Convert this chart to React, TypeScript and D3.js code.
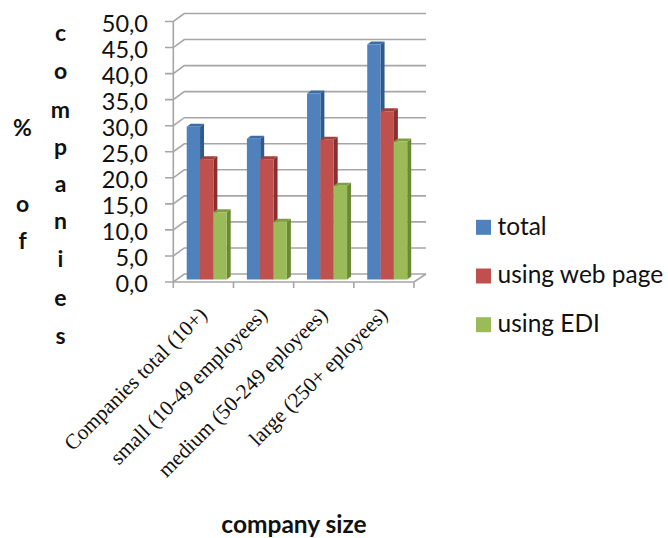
import React from "react";
import * as d3 from "d3";

const categories = ["Companies total (10+)", "small (10-49 employees)", "medium (50-249 eployees)", "large (250+ eployees)"];
const seriesNames = ["total", "using web page", "using EDI"];
const totalValues = [29.3, 27.0, 35.7, 45.1];
const webValues = [23.1, 23.1, 26.8, 32.3];
const ediValues = [12.9, 11.1, 18.0, 26.5];
const ticks = [0, 5, 10, 15, 20, 25, 30, 35, 40, 45, 50];
const yTitleA = [["%", 130], ["o", 206], ["f", 243]] as [string, number][];
const yTitleB = [["c", 35], ["o", 73], ["m", 112], ["p", 149], ["a", 186], ["n", 223], ["i", 261], ["e", 300], ["s", 338]] as [string, number][];

const front = "#4F81BD|#C0504D|#9BBB59".split("|");
const side = "#2F5A8E|#8A2F2D|#6B8A35".split("|");
const topC = "#3A6CA8|#A33F3C|#7F9E42".split("|");
const grid = "#A6A6A6";
const sans = "Lato, 'Open Sans', sans-serif";
const series = [totalValues, webValues, ediValues];

const x = d3.scaleBand<string>().domain(categories).range([173.3, 414]);
const y = d3.scaleLinear().domain([0, 50]).range([282, 21.5]);
const dx = 11, dy = 8;
const barY = d3.scaleLinear().domain([0, 50]).range([279.5, 19]);
const inner = d3.scaleBand<string>().domain(seriesNames).range([186.7 - 173.3, 226.7 - 173.3]);

export default function App() {
  const line = d3.line();
  return (
    <svg width={668} height={538} style={{ position: "absolute", left: 0, top: 0, background: "#fff" }}>
      {ticks.map((t) => (
        <g key={t} fill="none" stroke={grid} strokeWidth={1.6}>
          <path d={line([[165, y(t)], [173.3, y(t)], [173.3 + dx, y(t) - dy], [426, y(t) - dy]])!} />
        </g>
      ))}
      <path d={line([[173.3, y(0)], [173.3, y(50)]])!} stroke={grid} strokeWidth={1.6} fill="none" />
      <path d={line([[173.3, y(0)], [414, y(0)], [426, y(0) - dy]])!} stroke={grid} strokeWidth={1.6} fill="none" />
      {[...categories.map((c) => x(c)!), 414].map((v) => (
        <line key={v} x1={v} x2={v} y1={y(0)} y2={y(0) + 6} stroke={grid} strokeWidth={1.6} />
      ))}
      {categories.map((c, i) =>
        seriesNames.map((s, j) => {
          const x0 = x(c)! + inner(s)!;
          const w = inner.bandwidth();
          const top = barY(series[j][i]);
          const base = barY(0);
          const d = 4, u = 3;
          return (
            <g key={s}>
              <path d={line([[x0 + w, top], [x0 + w + d, top - u], [x0 + w + d, base - u], [x0 + w, base]])!} fill={side[j]} />
              <path d={line([[x0, top], [x0 + d, top - u], [x0 + w + d, top - u], [x0 + w, top]])!} fill={topC[j]} />
              <rect x={x0} y={top} width={w} height={base - top} fill={front[j]} />
            </g>
          );
        })
      )}
      {ticks.map((t) => (
        <text key={t} x={148} y={y(t) + 2} dy="0.36em" textAnchor="end" fontFamily={sans} fontSize={23.5} fill="#111">
          {d3.format(".1f")(t).replace(".", ",")}
        </text>
      ))}
      {categories.map((c) => (
        <text key={c} transform={`translate(${x(c)! + 35},${y(0) + 34}) rotate(-45)`} textAnchor="end" fontFamily="'Liberation Serif', serif" fontSize={21.3} fill="#111">
          {c}
        </text>
      ))}
      {yTitleA.map(([l, p], i) => (
        <text key={i} x={22.5} y={p} dy="0.25em" textAnchor="middle" fontFamily={sans} fontWeight={700} fontSize={23} fill="#111">{l}</text>
      ))}
      {yTitleB.map(([l, p], i) => (
        <text key={i} x={60.5} y={p} dy="0.25em" textAnchor="middle" fontFamily={sans} fontWeight={700} fontSize={23} fill="#111">{l}</text>
      ))}
      <text x={294} y={526} dy="0.3em" textAnchor="middle" fontFamily={sans} fontWeight={700} fontSize={24.5} fill="#111">company size</text>
      {seriesNames.map((s, j) => {
        const ly = d3.scalePoint<string>().domain(seriesNames).range([227.3, 324.7])(s)!;
        return (
          <g key={s}>
            <rect x={476} y={ly - 7.5} width={15} height={15} fill={front[j]} />
            <text x={497.5} y={ly} dy="0.3em" fontFamily={sans} fontSize={24.5} fill="#111">{s}</text>
          </g>
        );
      })}
    </svg>
  );
}
